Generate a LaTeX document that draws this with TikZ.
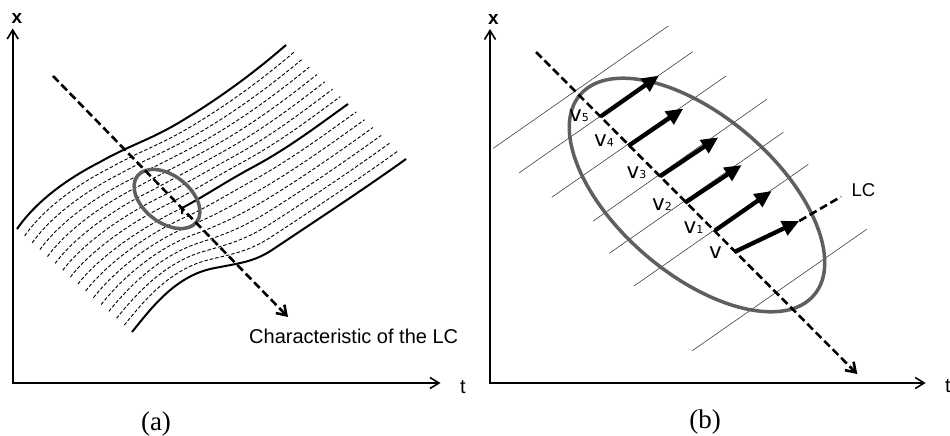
\documentclass[tikz,border=0pt]{standalone}
\usepackage{fontspec}
\setmainfont{Liberation Sans}
\newfontfamily\serifa{Liberation Serif}
\newfontfamily\dejavu{DejaVu Sans}
\usetikzlibrary{calc,arrows.meta}
\definecolor{ellgray}{RGB}{95,95,95}
\tikzset{
  axisline/.style={line width=1.6pt, line join=miter, {Straight Barb[length=9pt,width=11pt]}-{Straight Barb[length=9pt,width=11pt]}},
  charline/.style={line width=2.6pt, dash pattern=on 8pt off 4pt, -{Straight Barb[length=9pt,width=12pt]}},
  lcline/.style={line width=2.6pt, dash pattern=on 8pt off 4pt},
  bound/.style={line width=2pt, line join=round},
  stream/.style={line width=0.9pt, dash pattern=on 3.5pt off 2pt},
  ellipseline/.style={draw=ellgray, line width=3.5pt},
  hatch/.style={line width=0.55pt, black!80},
  vec/.style={line width=4.3pt, -{Triangle[length=17pt,width=15pt]}},
  lab/.style={inner sep=0pt, font=\fontsize{20}{24}\selectfont},
  axlab/.style={inner sep=0pt, font=\fontsize{19}{22}\selectfont\bfseries},
  caplab/.style={inner sep=0pt, font=\serifa\fontsize{27}{30}\selectfont},
  vlab/.style={inner sep=0pt, font=\dejavu\fontsize{21.5}{24}\selectfont},
}
\newcommand\famcurve[4]{%
  \draw[#1] ($(#2p0)!#4!(#3p0)$) .. controls ($(#2c1)!#4!(#3c1)$) and ($(#2c2)!#4!(#3c2)$) .. ($(#2p1)!#4!(#3p1)$)
    .. controls ($(#2c3)!#4!(#3c3)$) and ($(#2c4)!#4!(#3c4)$) .. ($(#2p2)!#4!(#3p2)$)
    .. controls ($(#2c5)!#4!(#3c5)$) and ($(#2c6)!#4!(#3c6)$) .. ($(#2p3)!#4!(#3p3)$);}
\newcommand\sub[1]{{\fontsize{11}{12}\selectfont #1}}
\begin{document}
\begin{tikzpicture}[x=1pt,y=-1pt]
\useasboundingbox (0,0) rectangle (950,436);

% ---------- panel (a) ----------
\coordinate (Lo) at (12.7,383);
\coordinate (Lx) at (440.5,383);
\coordinate (Ly) at (12.7,28.5);

% key curves: top T, middle M, bottom B
\coordinate (Tp0) at (17,229);  \coordinate (Tc1) at (30,210);  \coordinate (Tc2) at (55,185);
\coordinate (Tp1) at (100,162); \coordinate (Tc3) at (130,145); \coordinate (Tc4) at (150,140);
\coordinate (Tp2) at (180,122); \coordinate (Tc5) at (220,98);  \coordinate (Tc6) at (255,72);
\coordinate (Tp3) at (286,45);

\coordinate (Mp0) at (78,284);  \coordinate (Mc1) at (98,258);  \coordinate (Mc2) at (140,228);
\coordinate (Mp1) at (182,208); \coordinate (Mc3) at (205,196); \coordinate (Mc4) at (225,182);
\coordinate (Mp2) at (255,166); \coordinate (Mc5) at (290,147); \coordinate (Mc6) at (320,124);
\coordinate (Mp3) at (348,104);

\coordinate (Bp0) at (132,332); \coordinate (Bc1) at (150,310); \coordinate (Bc2) at (175,275);
\coordinate (Bp1) at (215,268); \coordinate (Bc3) at (240,263); \coordinate (Bc4) at (255,262);
\coordinate (Bp2) at (275,248); \coordinate (Bc5) at (320,218); \coordinate (Bc6) at (370,185);
\coordinate (Bp3) at (406,159);

\foreach \k in {1,...,7}{\pgfmathsetmacro\fr{\k/8}\famcurve{stream}{T}{M}{\fr}}
\foreach \k in {1,...,6}{\pgfmathsetmacro\fr{\k/7}\famcurve{stream}{M}{B}{\fr}}

\draw[bound] (Tp0) .. controls (Tc1) and (Tc2) .. (Tp1) .. controls (Tc3) and (Tc4) .. (Tp2) .. controls (Tc5) and (Tc6) .. (Tp3);
\draw[bound] (Bp0) .. controls (Bc1) and (Bc2) .. (Bp1) .. controls (Bc3) and (Bc4) .. (Bp2) .. controls (Bc5) and (Bc6) .. (Bp3);
\draw[stream] (Mp0) .. controls (Mc1) and (Mc2) .. (Mp1);
\draw[bound] ($(Mp1)+(0,6)$) -- (Mp1) .. controls (Mc3) and (Mc4) .. (Mp2) .. controls (Mc5) and (Mc6) .. (Mp3);

\draw[ellipseline, rotate around={-38:(167,199)}] (167,199) ellipse [x radius=37.5, y radius=23.5];

\coordinate (C0) at (53,76);
\coordinate (C1) at (288,317);
\draw[charline] (C0) -- (C1);

\draw[axisline] (Ly) -- (Lo) -- (Lx);

\node[lab, anchor=base west] (charlab) at (249,343) {Characteristic of the LC};
\node[axlab, anchor=base west] (lxl) at (11.5,24) {x};
\node[lab, anchor=base west] (ltl) at (460,393) {t};
\node[caplab, anchor=base] (capa) at (156,430) {(a)};

% ---------- panel (b) ----------
\coordinate (Ro) at (490,383);
\coordinate (Rx) at (925.7,383);
\coordinate (Ry) at (490,29);

\draw[hatch] (493.3,148.3) -- (668.3,26);
\draw[hatch] (519.3,172.7) -- (692.7,51.7);
\draw[hatch] (551.7,197.3) -- (726,76);
\draw[hatch] (593.3,221) -- (766.7,99.3);
\draw[hatch] (609.3,253.3) -- (783.3,132.3);
\draw[hatch] (634,286) -- (808.3,164.3);
\draw[hatch] (692.3,350.7) -- (866.7,229.3);

\draw[ellipseline, rotate around={-40.6:(697,195)}] (697,195) ellipse [x radius=154, y radius=79];

\coordinate (A) at (536,52);
\coordinate (Z) at (857.3,374);
\draw[charline] (A) -- (Z);

\coordinate (s5) at (600.7,116.5); \coordinate (e5) at (659,75.5);
\coordinate (s4) at (628.3,146);   \coordinate (e4) at (683.3,108.5);
\coordinate (s3) at (660,176.3);   \coordinate (e3) at (718.3,137.3);
\coordinate (s2) at (685,202.7);   \coordinate (e2) at (741.7,165);
\coordinate (s1) at (715,230.5);   \coordinate (e1) at (771.7,191);
\coordinate (s0) at (735,251.7);   \coordinate (e0) at (799.3,221);
\coordinate (lcend) at (841,196.7);

\draw[lcline] (e0) -- (lcend);
\foreach \i in {0,...,5}{\draw[vec] (s\i) -- (e\i);}

\node[vlab, anchor=base east] (l5) at (589,121.5) {v\sub{5}};
\node[vlab, anchor=base east] (l4) at (614,146) {v\sub{4}};
\node[vlab, anchor=base east] (l3) at (646.5,178) {v\sub{3}};
\node[vlab, anchor=base east] (l2) at (672,210) {v\sub{2}};
\node[vlab, anchor=base east] (l1) at (703.5,233.3) {v\sub{1}};
\node[vlab, anchor=base east] (l0) at (722,258) {v};
\node[lab, anchor=base west, font=\fontsize{18.5}{22}\selectfont] (lc) at (851.5,196) {LC};

\draw[axisline] (Ry) -- (Ro) -- (Rx);
\node[axlab, anchor=base west] (rxl) at (488,25) {x};
\node[lab, anchor=base west] (rtl) at (945,392) {t};
\node[caplab, anchor=base] (capb) at (705,428) {(b)};
\end{tikzpicture}
\end{document}
